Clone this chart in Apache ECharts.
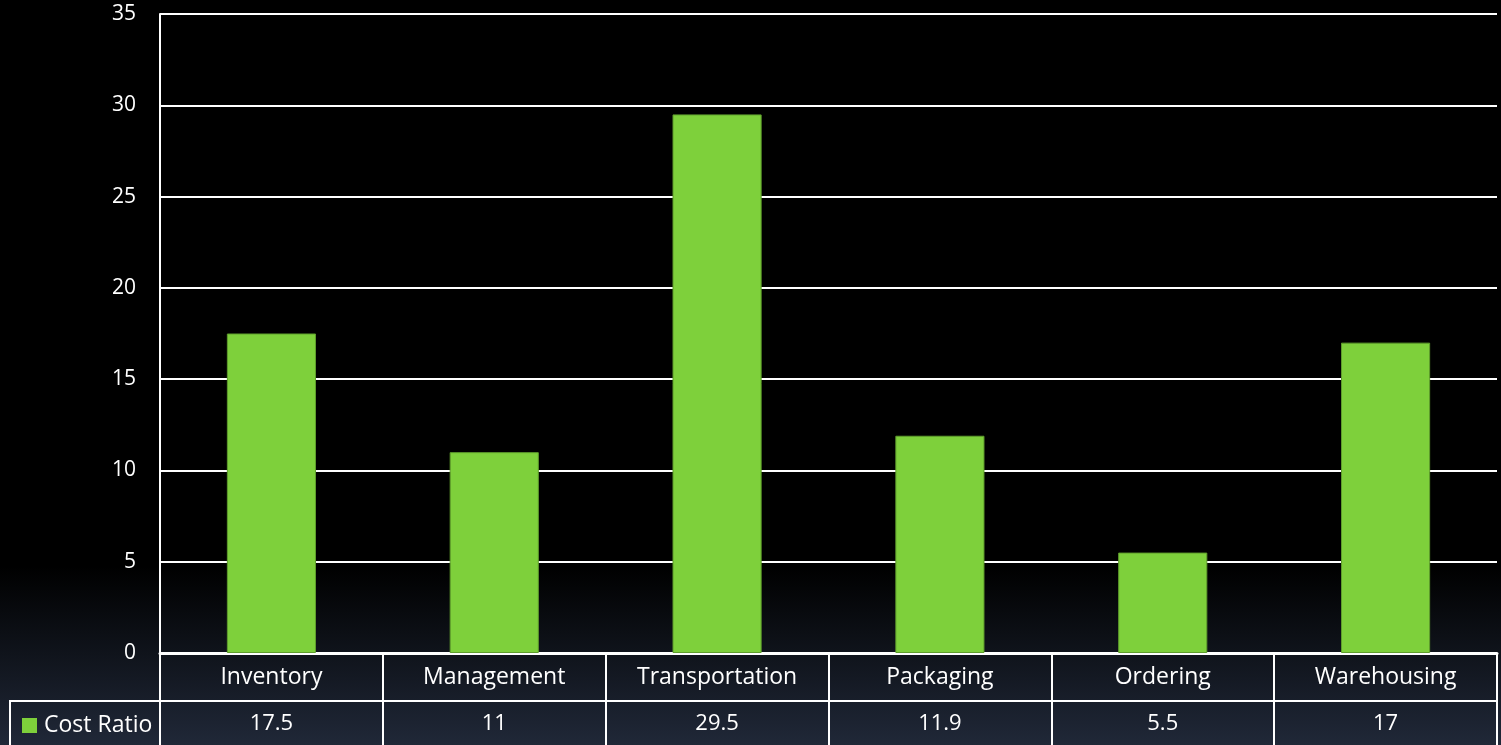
<!DOCTYPE html>
<html>
<head>
<meta charset="utf-8">
<script src="https://cdn.jsdelivr.net/npm/echarts@6/dist/echarts.min.js"></script>
<style>
  html, body { margin: 0; padding: 0; background: #000; }
  #chart { width: 1501px; height: 745px; }
</style>
</head>
<body>
<div id="chart"></div>
<script>
const categories = ["Inventory", "Management", "Transportation", "Packaging", "Ordering", "Warehousing"];
const costRatio = [17.5, 11, 29.5, 11.9, 5.5, 17];
const seriesName = "Cost Ratio";

const chart = echarts.init(document.getElementById("chart"));
const barColor = "#7ed03b";
const fontFamily = "'Open Sans', 'Noto Sans', sans-serif";

chart.setOption({
  backgroundColor: {
    type: "linear", x: 0, y: 0, x2: 0, y2: 1,
    colorStops: [
      { offset: 0, color: "#000000" },
      { offset: 0.76, color: "#000000" },
      { offset: 1, color: "#202838" }
    ]
  },
  animation: false,
  grid: { left: 160, right: 4, top: 14, bottom: 92, containLabel: false },
  legend: {
    left: 17,
    top: 709,
    itemWidth: 15,
    itemHeight: 15,
    icon: "rect",
    itemGap: 4,
    itemStyle: { borderWidth: 0 },
    textStyle: { color: "#fff", fontSize: 23, fontFamily, padding: [0, 0, 0, 2] },
    data: [seriesName]
  },
  graphic: [
    {
      type: "polyline",
      shape: { points: [[10, 760], [10, 701], [160, 701]] },
      style: { stroke: "#fff", lineWidth: 2, fill: null }
    }
  ],
  xAxis: [
    {
      type: "category",
      data: categories,
      position: "bottom",
      axisLine: { lineStyle: { color: "#fff", width: 3 } },
      axisTick: { show: true, inside: false, length: 92, interval: 0, lineStyle: { color: "#fff", width: 2 } },
      axisLabel: { color: "#fff", fontSize: 23, margin: 13, fontFamily, interval: 0 }
    },
    {
      type: "category",
      data: costRatio.map(String),
      position: "bottom",
      offset: 48,
      axisLine: { lineStyle: { color: "#fff", width: 2 } },
      axisTick: { show: false },
      axisLabel: { color: "#fff", fontSize: 22, margin: 12, fontFamily, interval: 0 }
    }
  ],
  yAxis: {
    type: "value",
    min: 0,
    max: 35,
    interval: 5,
    axisLine: { show: true, lineStyle: { color: "#fff", width: 2 } },
    axisTick: { show: false },
    axisLabel: { color: "#fff", fontSize: 21, margin: 24, fontFamily },
    splitLine: { lineStyle: { color: "#fff", width: 2 } }
  },
  series: [
    {
      name: seriesName,
      type: "bar",
      xAxisIndex: 0,
      data: costRatio,
      barWidth: "40%",
      itemStyle: { color: barColor, borderColor: "#5f9e2c", borderWidth: 1 }
    }
  ]
});
</script>
</body>
</html>
